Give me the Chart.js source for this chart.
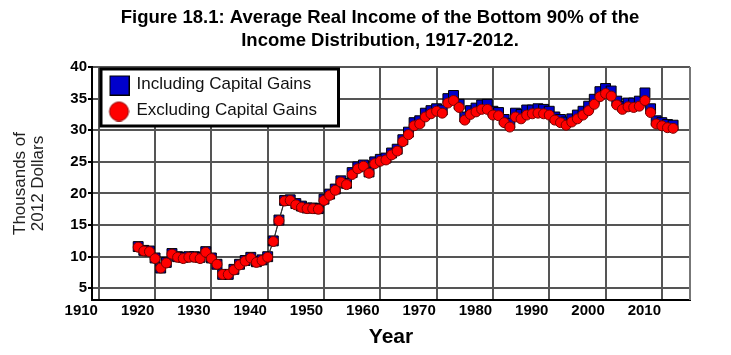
<!DOCTYPE html>
<html>
<head>
<meta charset="utf-8">
<script src="https://cdn.jsdelivr.net/npm/chart.js@4.4.1/dist/chart.umd.min.js"></script>
<style>
  html, body { margin: 0; padding: 0; background: #fff; }
</style>
</head>
<body>
<canvas id="income-chart" width="731" height="355"></canvas>
<script>
// Datos: ingreso real medio del 90% inferior (miles de dolares de 2012)
var years = [
  1917, 1918, 1919, 1920, 1921, 1922, 1923, 1924, 1925, 1926, 1927, 1928, 1929, 1930, 1931, 1932,
  1933, 1934, 1935, 1936, 1937, 1938, 1939, 1940, 1941, 1942, 1943, 1944, 1945, 1946, 1947, 1948,
  1949, 1950, 1951, 1952, 1953, 1954, 1955, 1956, 1957, 1958, 1959, 1960, 1961, 1962, 1963, 1964,
  1965, 1966, 1967, 1968, 1969, 1970, 1971, 1972, 1973, 1974, 1975, 1976, 1977, 1978, 1979, 1980,
  1981, 1982, 1983, 1984, 1985, 1986, 1987, 1988, 1989, 1990, 1991, 1992, 1993, 1994, 1995, 1996,
  1997, 1998, 1999, 2000, 2001, 2002, 2003, 2004, 2005, 2006, 2007, 2008, 2009, 2010, 2011, 2012
];
var inclCapGains = [
  11.6, 11.0, 10.9, 9.8, 8.2, 9.1, 10.5, 10.0, 9.9, 10.0, 10.0, 9.9, 10.8, 9.8, 8.8, 7.2,
  7.2, 8.0, 8.8, 9.4, 9.9, 9.2, 9.5, 10.0, 12.5, 15.8, 18.9, 19.0, 18.4, 18.0, 17.7, 17.7,
  17.6, 19.1, 19.9, 20.7, 22.0, 21.6, 23.3, 24.2, 24.5, 23.4, 25.0, 25.4, 25.6, 26.4, 27.0, 28.5,
  29.7, 31.2, 31.5, 32.7, 33.1, 33.4, 33.2, 35.0, 35.5, 34.1, 32.1, 33.1, 33.5, 34.0, 34.1, 33.0,
  32.8, 31.7, 31.1, 32.7, 32.5, 33.2, 33.2, 33.4, 33.3, 33.0, 32.1, 31.7, 31.3, 31.8, 32.4, 33.0,
  33.8, 34.9, 36.1, 36.6, 36.2, 34.6, 33.8, 34.3, 34.3, 34.6, 35.9, 33.4, 31.5, 31.2, 30.9, 30.8
];
var exclCapGains = [
  11.5, 10.9, 10.8, 9.7, 8.2, 9.0, 10.4, 9.9, 9.7, 9.9, 9.9, 9.7, 10.7, 9.7, 8.8, 7.2,
  7.2, 7.9, 8.7, 9.3, 9.8, 9.1, 9.4, 9.9, 12.4, 15.7, 18.8, 18.9, 18.2, 17.8, 17.6, 17.6,
  17.5, 18.9, 19.7, 20.5, 21.8, 21.4, 23.0, 23.9, 24.3, 23.2, 24.7, 25.1, 25.3, 26.1, 26.7, 28.2,
  29.3, 30.7, 31.0, 32.1, 32.6, 33.0, 32.7, 34.3, 34.7, 33.6, 31.6, 32.5, 32.9, 33.3, 33.3, 32.4,
  32.3, 31.2, 30.5, 32.1, 31.8, 32.4, 32.6, 32.7, 32.6, 32.4, 31.6, 31.2, 30.8, 31.3, 31.8, 32.4,
  33.1, 34.1, 35.3, 35.8, 35.4, 34.0, 33.3, 33.7, 33.6, 33.8, 34.7, 32.8, 31.0, 30.7, 30.4, 30.3
];
var seriesNames = ['Including Capital Gains', 'Excluding Capital Gains'];
var xTicks = [1910, 1920, 1930, 1940, 1950, 1960, 1970, 1980, 1990, 2000, 2010];
var yTicks = [5, 10, 15, 20, 25, 30, 35, 40];

var boldFont = "'Liberation Sans', Arial, sans-serif";
var plainFont = "'Liberation Sans', Arial, sans-serif";

// Marcadores de la leyenda (cuadrado azul y circulo rojo)
function legendMarker(kind) {
  var c = document.createElement('canvas');
  c.width = 30; c.height = 22;
  var g = c.getContext('2d');
  if (kind === 'rect') {
    g.fillStyle = '#0000cc';
    g.fillRect(10, 2, 20, 20);
    g.strokeStyle = '#000';
    g.lineWidth = 1;
    g.strokeRect(10.5, 2.5, 19, 19);
  } else {
    g.beginPath();
    g.arc(19.5, 12, 9.5, 0, 2 * Math.PI);
    g.fillStyle = '#ff0000';
    g.fill();
    g.strokeStyle = '#8b0000';
    g.lineWidth = 1;
    g.stroke();
  }
  return c;
}
var markerIncl = legendMarker('rect');
var markerExcl = legendMarker('circle');

function toPoints(vals) {
  return years.map(function (yr, i) { return { x: yr, y: vals[i] }; });
}

var framePlugin = {
  id: 'frame',
  afterLayout: function (chart) {
    // centrar el titulo como en la figura original
    chart.titleBlock.left = 29;
    chart.titleBlock.right = 731;
    // la leyenda va dentro del area del grafico
    var lg = chart.legend, a = chart.chartArea;
    var dy = a.top - lg.top;
    lg.top += dy;
    lg.bottom += dy;
    lg.legendHitBoxes.forEach(function (hb) { hb.top += dy; });
  },
  afterDatasetsDraw: function (chart) {
    var ctx = chart.ctx, a = chart.chartArea;
    ctx.save();
    ctx.strokeStyle = '#777';
    ctx.lineWidth = 2;
    ctx.beginPath();
    ctx.moveTo(a.right, a.top);
    ctx.lineTo(a.right, a.bottom);
    ctx.stroke();
    ctx.fillStyle = '#fff';
    ctx.fillRect(101, 69, 237.5, 57);
    ctx.strokeStyle = '#000';
    ctx.lineWidth = 3;
    ctx.strokeRect(101, 69, 237.5, 57);
    ctx.restore();
    chart.legend.draw();
  }
};

var ctx = document.getElementById('income-chart').getContext('2d');
var incomeChart = new Chart(ctx, {
  type: 'line',
  data: {
    datasets: [{
      label: seriesNames[1],
      data: toPoints(exclCapGains),
      pointStyle: 'circle',
      pointRadius: 5,
      pointBackgroundColor: '#ff0000',
      pointBorderColor: '#7a0000',
      pointBorderWidth: 1,
      borderColor: '#333',
      borderWidth: 1,
      fill: false
    }, {
      label: seriesNames[0],
      data: toPoints(inclCapGains),
      pointStyle: 'rect',
      pointRadius: 7,
      pointBackgroundColor: '#0000cc',
      pointBorderColor: '#000',
      pointBorderWidth: 1,
      borderColor: '#333',
      borderWidth: 1,
      fill: false
    }]
  },
  options: {
    responsive: false,
    animation: false,
    layout: { padding: { left: 0, right: 41, top: 0, bottom: 0 } },
    plugins: {
      tooltip: { enabled: false },
      title: {
        display: true,
        text: ['Figure 18.1: Average Real Income of the Bottom 90% of the',
               'Income Distribution, 1917-2012.'],
        color: '#000',
        font: { family: boldFont, size: 18.5, weight: 'bold', lineHeight: 23 / 18.5 },
        padding: { top: 6, bottom: 15 }
      },
      legend: {
        position: 'chartArea',
        align: 'start',
        labels: {
          usePointStyle: true,
          pointStyleWidth: 27,
          padding: 9,
          color: '#111',
          font: { family: plainFont, size: 17 },
          generateLabels: function () {
            return [
              { text: seriesNames[0], pointStyle: markerIncl, datasetIndex: 1, hidden: false, lineWidth: 0, fontColor: '#111' },
              { text: seriesNames[1], pointStyle: markerExcl, datasetIndex: 0, hidden: false, lineWidth: 0, fontColor: '#111' }
            ];
          }
        }
      }
    },
    scales: {
      x: {
        type: 'linear',
        min: 1908.8,
        max: 2015,
        afterBuildTicks: function (scale) {
          scale.ticks = xTicks.map(function (v) { return { value: v }; });
        },
        afterFit: function (scale) { scale.height = 55; },
        grid: { color: '#555', lineWidth: 2, drawTicks: false },
        border: { color: '#000', width: 2 },
        ticks: {
          autoSkip: false,
          maxRotation: 0,
          padding: 2,
          labelOffset: -17.5,
          color: '#000',
          font: { family: boldFont, size: 15, weight: 'bold' },
          callback: function (v) { return String(v); }
        },
        title: {
          display: true,
          text: 'Year',
          color: '#000',
          font: { family: boldFont, size: 21, weight: 'bold', lineHeight: 1.2 },
          padding: { top: 0, bottom: 5 }
        }
      },
      y: {
        min: 3.15,
        max: 40,
        afterBuildTicks: function (scale) {
          scale.ticks = yTicks.map(function (v) { return { value: v }; });
        },
        afterFit: function (scale) { scale.width = 92; },
        grid: { color: '#555', lineWidth: 2, tickLength: 4, tickColor: '#000' },
        border: { color: '#000', width: 2 },
        ticks: {
          padding: 1,
          color: '#000',
          font: { family: boldFont, size: 15, weight: 'bold' }
        },
        title: {
          display: true,
          text: ['Thousands of', '2012 Dollars'],
          color: '#222',
          font: { family: plainFont, size: 17, lineHeight: 18 / 17 },
          padding: { top: 11, bottom: 0 }
        }
      }
    }
  },
  plugins: [framePlugin]
});
</script>
</body>
</html>
